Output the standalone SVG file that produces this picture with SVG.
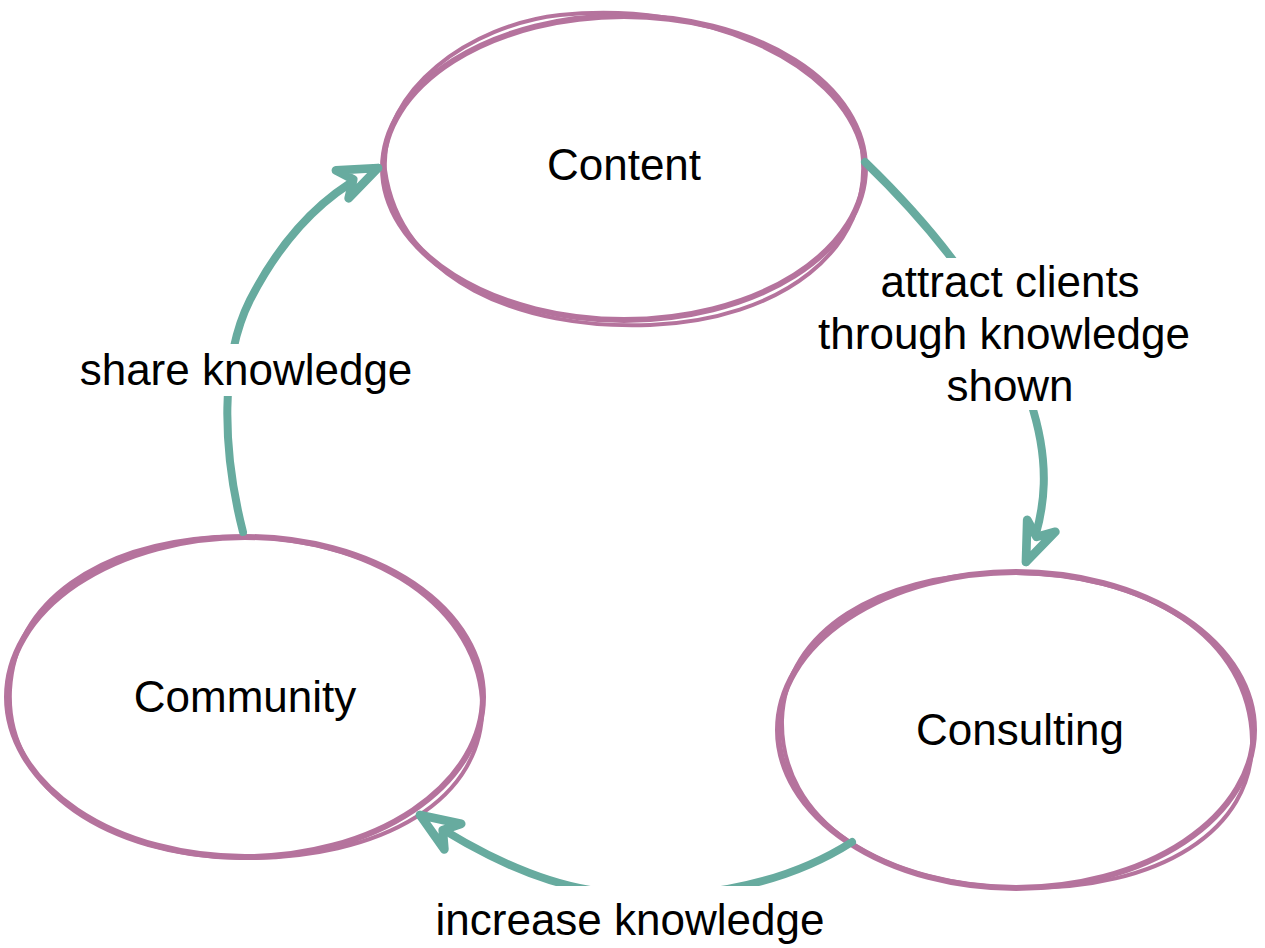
<svg xmlns="http://www.w3.org/2000/svg" width="1265" height="948" viewBox="0 0 1265 948">
<style>
.node{fill:#ffffff;stroke:#B5739D;stroke-width:6;stroke-linecap:round}
.node2{fill:none;stroke:#B5739D;stroke-width:4;stroke-linecap:round}
.edge{fill:none;stroke:#67AB9F;stroke-width:8;stroke-linecap:round}
.lbl{font-family:"Liberation Sans",Arial,sans-serif;font-size:44px;fill:#000000;text-anchor:middle}
.bg{fill:#ffffff}
</style>
<defs>
<marker id="arr" markerUnits="userSpaceOnUse" orient="auto" markerWidth="60" markerHeight="60" refX="0" refY="0" viewBox="-45 -25 55 50" overflow="visible">
<path d="M0,0 L-36,-14 L-25,0 L-36,14 Z" fill="#ffffff" stroke="#67AB9F" stroke-width="8" stroke-linejoin="round"/>
</marker>
</defs>
<rect width="1265" height="948" fill="#ffffff"/>
<g id="nodes">
<g id="content">
<ellipse class="node" cx="624" cy="168" rx="241" ry="152"/>
<path class="node2" d="M385,170 C380,90 470,25 560,15 C700,0 840,60 862,150 C875,250 780,320 650,325 C520,330 400,280 385,170"/>
<text class="lbl" x="624" y="180">Content</text>
</g>
<g id="community">
<ellipse class="node" cx="245" cy="697" rx="238" ry="160"/>
<path class="node2" d="M10,690 C15,600 100,545 215,537 C360,530 475,600 482,700 C488,800 380,860 240,858 C110,856 5,790 10,690"/>
<text class="lbl" x="245" y="712">Community</text>
</g>
<g id="consulting">
<ellipse class="node" cx="1016" cy="730" rx="238" ry="158"/>
<path class="node2" d="M782,720 C785,630 880,575 1000,573 C1150,570 1250,640 1252,740 C1254,830 1160,890 1020,888 C880,886 780,820 782,720"/>
<text class="lbl" x="1020" y="745">Consulting</text>
</g>
</g>
<g id="connectors">
<path class="edge" d="M243,532 C222,450 220,360 250,300 C285,232 330,190 378,168" marker-end="url(#arr)"/>
<rect class="bg" x="76" y="344" width="340" height="52"/>
<text class="lbl" x="246" y="385">share knowledge</text>
<path class="edge" d="M865,162 C925,220 995,300 1030,400 C1050,460 1048,510 1026,562" marker-end="url(#arr)"/>
<rect class="bg" x="876" y="258" width="268" height="50"/>
<rect class="bg" x="815" y="308" width="380" height="52"/>
<rect class="bg" x="940" y="360" width="140" height="50"/>
<text class="lbl" x="1010" y="297">attract clients</text>
<text class="lbl" x="1004" y="349">through knowledge</text>
<text class="lbl" x="1010" y="401">shown</text>
<path class="edge" d="M852,842 C780,888 680,905 590,890 C530,880 470,848 420,815" marker-end="url(#arr)"/>
<rect class="bg" x="430" y="886" width="400" height="62"/>
<text class="lbl" x="630" y="935">increase knowledge</text>
</g>
</svg>
